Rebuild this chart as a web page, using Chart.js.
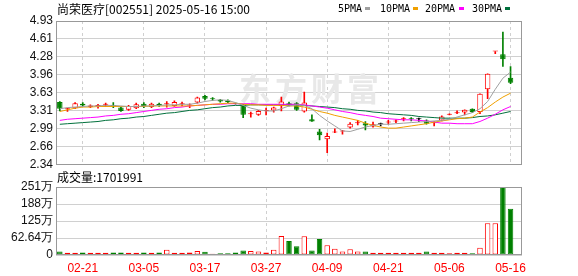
<!DOCTYPE html>
<html>
<head>
<meta charset="utf-8">
<script src="https://cdn.jsdelivr.net/npm/chart.js@4.4.1/dist/chart.umd.min.js"></script>
<style>
  body { margin: 0; background: #fff; width: 578px; height: 276px; overflow: hidden; position: relative;
         font-family: "Noto Sans CJK SC", sans-serif; }
  canvas { position: absolute; left: 0; }
  #kline { top: 0; }
  #vol { top: 170px; }
  .txt { position: absolute; font-size: 12px; line-height: 14px; color: #000; white-space: nowrap; }
  .lg { position: absolute; top: 3px; font: 10px "DejaVu Sans Mono", monospace; line-height: 12px; color: #000; }
  .sq { position: absolute; top: 7px; width: 5px; height: 3px; }
</style>
</head>
<body>
<canvas id="kline" width="578" height="175"></canvas>
<canvas id="vol" width="578" height="106"></canvas>

<div class="txt" style="left:57px; top:2px;">尚荣医疗[002551] 2025-05-16 15:00</div>
<div class="lg" style="left:338px;">5PMA</div><div class="sq" style="left:365px; background:#a0a0a0;"></div>
<div class="lg" style="left:380px;">10PMA</div><div class="sq" style="left:413px; background:#f0a000;"></div>
<div class="lg" style="left:425px;">20PMA</div><div class="sq" style="left:459px; background:#ff00ff;"></div>
<div class="lg" style="left:472px;">30PMA</div><div class="sq" style="left:505px; background:#00703c;"></div>
<div class="txt" style="left:57px; top:170px;">成交量:1701991</div>

<script>
// 日期 (交易日)
const dates = [
  '02-18','02-19','02-20','02-21','02-24','02-25','02-26','02-27','02-28',
  '03-03','03-04','03-05','03-06','03-07','03-10','03-11','03-12','03-13','03-14','03-17',
  '03-18','03-19','03-20','03-21','03-24','03-25','03-26','03-27','03-28','03-31',
  '04-01','04-02','04-03','04-07','04-08','04-09','04-10','04-11','04-14','04-15',
  '04-16','04-17','04-18','04-21','04-22','04-23','04-24','04-25','04-28','04-29','04-30',
  '05-06','05-07','05-08','05-09','05-12','05-13','05-14','05-15','05-16'
];

// K线数据
const opens = [3.47,3.34,3.36,3.44,3.38,3.40,3.42,3.41,3.37,3.33, 3.36,3.44,3.38,3.44,3.43,3.40,3.43,3.41,3.46,3.58,
               3.52,3.51,3.50,3.45,3.42,3.25,3.24,3.31,3.32,3.40, 3.45,3.45,3.30,3.16,2.94,2.80,2.92,2.94,3.01,3.09,
               3.09,3.03,3.07,3.10,3.12,3.16,3.16,3.16,3.14,3.09, 3.14,3.24,3.27,3.28,3.35,3.29,3.70,4.38,4.33,3.91];
const highs = [3.48,3.36,3.46,3.46,3.42,3.43,3.45,3.46,3.38,3.41, 3.45,3.46,3.45,3.45,3.48,3.49,3.47,3.44,3.56,3.59,
               3.55,3.52,3.51,3.45,3.43,3.29,3.32,3.36,3.38,3.56, 3.47,3.46,3.65,3.24,2.98,2.91,2.99,2.96,3.10,3.14,
               3.12,3.11,3.09,3.14,3.15,3.19,3.19,3.18,3.15,3.12, 3.22,3.26,3.31,3.33,3.35,3.62,3.98,4.38,4.73,4.11];
const lows = [3.31,3.30,3.35,3.39,3.37,3.36,3.39,3.37,3.30,3.32, 3.35,3.37,3.37,3.39,3.38,3.39,3.40,3.37,3.45,3.51,
              3.50,3.47,3.46,3.43,3.19,3.20,3.23,3.24,3.29,3.31, 3.40,3.32,3.29,3.12,2.79,2.56,2.92,2.89,3.00,3.06,
              2.97,3.02,3.04,3.07,3.10,3.13,3.13,3.12,3.07,3.04, 3.13,3.24,3.26,3.24,3.28,3.26,3.53,4.34,4.11,3.80];
const closes = [3.35,3.35,3.45,3.41,3.41,3.41,3.44,3.40,3.31,3.40, 3.43,3.40,3.44,3.41,3.44,3.47,3.44,3.42,3.55,3.53,
                3.52,3.48,3.47,3.44,3.24,3.26,3.31,3.32,3.37,3.48, 3.41,3.33,3.46,3.12,2.87,2.86,2.94,2.95,3.08,3.10,
                3.05,3.07,3.07,3.11,3.13,3.17,3.16,3.16,3.08,3.10, 3.21,3.26,3.28,3.33,3.29,3.62,3.98,4.38,4.24,3.82];

// 均线
const ma5 = [3.35,3.37,3.38,3.39,3.40,3.40,3.41,3.41,3.40,3.39, 3.39,3.40,3.40,3.41,3.42,3.42,3.43,3.43,3.45,3.48,
             3.50,3.51,3.50,3.46,3.41,3.36,3.33,3.31,3.31,3.35, 3.40,3.42,3.41,3.35,3.23,3.13,3.04,2.95,2.94,2.98,
             3.02,3.05,3.07,3.07,3.08,3.09,3.10,3.11,3.12,3.13, 3.14,3.16,3.20,3.24,3.28,3.35,3.48,3.70,3.90,4.01];
const ma10 = [3.30,3.33,3.36,3.38,3.38,3.39,3.39,3.39,3.39,3.39, 3.39,3.39,3.40,3.40,3.40,3.40,3.40,3.40,3.41,3.42,
              3.43,3.44,3.45,3.45,3.43,3.42,3.42,3.41,3.41,3.41, 3.40,3.40,3.38,3.34,3.30,3.27,3.23,3.20,3.17,3.14,
              3.09,3.05,3.02,3.00,3.00,3.02,3.04,3.06,3.08,3.11, 3.13,3.15,3.17,3.18,3.20,3.29,3.37,3.47,3.56,3.63];
const ma20 = [3.14,3.16,3.17,3.18,3.19,3.20,3.22,3.23,3.25,3.26, 3.28,3.30,3.32,3.34,3.35,3.37,3.38,3.40,3.41,3.42,
              3.43,3.43,3.44,3.44,3.44,3.44,3.43,3.43,3.43,3.43, 3.43,3.43,3.42,3.40,3.38,3.36,3.33,3.30,3.28,3.25,
              3.23,3.21,3.18,3.17,3.16,3.15,3.15,3.14,3.13,3.11, 3.09,3.09,3.08,3.08,3.08,3.12,3.18,3.25,3.33,3.39];
const ma30 = [3.07,3.08,3.09,3.10,3.11,3.12,3.14,3.15,3.17,3.18, 3.20,3.21,3.23,3.25,3.27,3.28,3.30,3.32,3.33,3.35,
              3.37,3.38,3.40,3.41,3.41,3.42,3.42,3.42,3.42,3.42, 3.42,3.42,3.41,3.40,3.39,3.38,3.37,3.35,3.34,3.32,
              3.31,3.29,3.28,3.26,3.25,3.24,3.23,3.21,3.20,3.19, 3.18,3.18,3.18,3.18,3.19,3.21,3.22,3.24,3.27,3.30];

// 成交量 (股)
const volumes = [130000,80000,80000,90000,80000,80000,80000,90000,90000,80000,
                 80000,90000,80000,90000,190000,80000,80000,90000,150000,120000,
                 50000,60000,60000,90000,170000,150000,130000,90000,190000,700000,
                 520000,320000,690000,170000,590000,360000,230000,130000,210000,130000,
                 130000,80000,80000,80000,80000,80000,80000,80000,130000,80000,
                 80000,60000,80000,80000,60000,270000,1170000,1170000,2505600,1701991];

// 刻度
const xTickDates = ['02-21','03-05','03-17','03-27','04-09','04-21','05-06','05-16'];
const priceTicks = [2.34, 2.66375, 2.9875, 3.31125, 3.635, 3.95875, 4.2825, 4.60625, 4.93];
const priceTickLabels = ['2.34','2.66','2.99','3.31','3.63','3.96','4.28','4.61','4.93'];
const volTicks = [0, 626400, 1252800, 1879200, 2505600];
const volTickLabels = ['0','62.64万','125万','188万','251万'];

const RED = '#ff0000', GREEN = '#008000', BLACK = '#000000';
const GRID = '#d0d0d0';
const slots = dates.concat(['']);   // 右侧留一个空位

function candleColor(i) {
  if (closes[i] > opens[i]) return RED;
  if (closes[i] < opens[i]) return GREEN;
  const prev = i > 0 ? closes[i - 1] : opens[i];
  return closes[i] > prev ? RED : (closes[i] < prev ? GREEN : BLACK);
}
const colors = dates.map((d, i) => candleColor(i));
const bodyFill = colors.map(c => c === RED ? '#ffffff' : c);
const volUp = dates.map((d, i) => closes[i] >= opens[i]);

// 边框 + 水印
const frame = {
  id: 'frame',
  beforeDatasetsDraw(chart, args, opts) {
    if (!opts.mark) return;
    const a = chart.chartArea, ctx = chart.ctx;
    const cx = (a.left + a.right) / 2 + 20, cy = (a.top + a.bottom) / 2 - 4;
    ctx.save();
    ctx.font = 'bold 32px "Noto Sans CJK SC"';
    ctx.fillStyle = '#e8e8e8';
    ctx.textAlign = 'center';
    ctx.textBaseline = 'middle';
    Array.from('东方财富').forEach((ch, k) => ctx.fillText(ch, cx + (k - 1.5) * 36, cy));
    ctx.restore();
  },
  afterDraw(chart) {
    const a = chart.chartArea, ctx = chart.ctx;
    ctx.save();
    ctx.strokeStyle = '#999';
    ctx.lineWidth = 1;
    const l = Math.round(a.left) + 0.5, t = Math.round(a.top) + 0.5;
    const r = Math.round(a.right) - 0.5, b = Math.round(a.bottom) - 0.5;
    ctx.strokeRect(l, t, r - l, b - t);
    ctx.restore();
  }
};

const xGridColor = ctx => xTickDates.includes(slots[ctx.index]) ? GRID : 'rgba(0,0,0,0)';
const tickFont = { family: 'Liberation Sans', size: 12 };

function maLine(label, data, color) {
  return { type: 'line', label, data, borderColor: color, borderWidth: 1, pointRadius: 0, tension: 0, order: 0 };
}

new Chart(document.getElementById('kline'), {
  type: 'bar',
  data: {
    labels: slots,
    datasets: [
      maLine('MA5', ma5, '#a0a0a0'),
      maLine('MA10', ma10, '#f0a000'),
      maLine('MA20', ma20, '#ff00ff'),
      maLine('MA30', ma30, '#00703c'),
      {
        label: 'body',
        data: dates.map((d, i) => [opens[i], closes[i]]),
        backgroundColor: bodyFill, borderColor: colors, borderWidth: 1, borderSkipped: false,
        minBarLength: 1, grouped: false, barPercentage: 0.72, categoryPercentage: 1, order: 1
      },
      {
        label: 'wick',
        data: dates.map((d, i) => [lows[i], highs[i]]),
        backgroundColor: colors, barThickness: 1, grouped: false, order: 2
      }
    ]
  },
  options: {
    responsive: false, animation: false, events: [],
    layout: { padding: { left: 0, top: 21, right: 56, bottom: 10 } },
    plugins: { legend: { display: false }, tooltip: { enabled: false }, frame: { mark: true } },
    scales: {
      x: {
        offset: true,
        grid: { offset: false, drawTicks: false, color: xGridColor },
        border: { display: false, dash: [3, 3] },
        ticks: { display: false, autoSkip: false },
        afterFit: s => { s.height = 0; }
      },
      y: {
        min: 2.34, max: 4.93,
        grid: { color: GRID, drawTicks: false },
        border: { display: false },
        ticks: { autoSkip: false, padding: 3, color: '#111', font: tickFont, callback: (v, i) => priceTickLabels[i] },
        afterBuildTicks: s => { s.ticks = priceTicks.map(v => ({ value: v })); },
        afterFit: s => { s.width = 56; }
      }
    }
  },
  plugins: [frame]
});

new Chart(document.getElementById('vol'), {
  type: 'bar',
  data: {
    labels: slots,
    datasets: [{
      label: '成交量',
      data: volumes,
      backgroundColor: volUp.map(u => u ? '#ffffff' : GREEN),
      borderColor: volUp.map(u => u ? RED : GREEN),
      borderWidth: 1, borderSkipped: false, barPercentage: 0.72, categoryPercentage: 1
    }]
  },
  options: {
    responsive: false, animation: false, events: [],
    layout: { padding: { left: 0, top: 17, right: 56, bottom: 0 } },
    plugins: { legend: { display: false }, tooltip: { enabled: false } },
    scales: {
      x: {
        offset: true,
        grid: { offset: false, drawTicks: false, color: xGridColor },
        border: { display: false, dash: [3, 3] },
        ticks: {
          autoSkip: false, maxRotation: 0, padding: 6, color: RED, font: tickFont,
          callback: (v, i) => xTickDates.includes(slots[i]) ? slots[i] : null
        },
        afterFit: s => { s.height = 21; }
      },
      y: {
        min: 0, max: 2505600,
        grid: { color: GRID, drawTicks: false },
        border: { display: false },
        ticks: { autoSkip: false, padding: 3, color: '#111', font: tickFont, callback: (v, i) => volTickLabels[i] },
        afterBuildTicks: s => { s.ticks = volTicks.map(v => ({ value: v })); },
        afterFit: s => { s.width = 56; }
      }
    }
  },
  plugins: [frame]
});
</script>
</body>
</html>
